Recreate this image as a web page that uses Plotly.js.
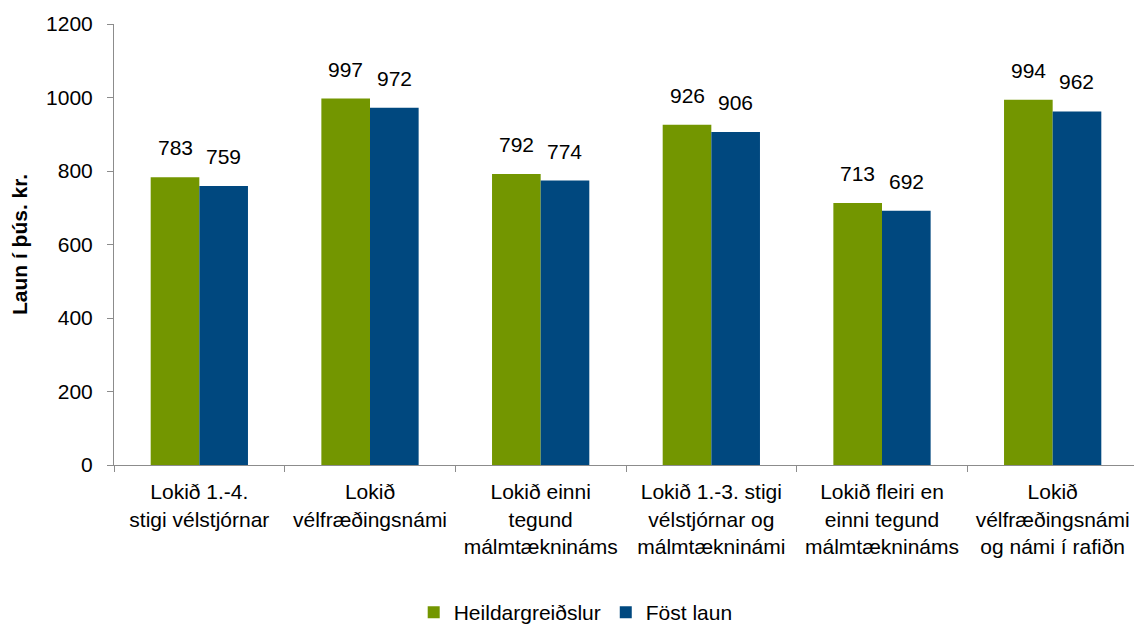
<!DOCTYPE html>
<html>
<head>
<meta charset="utf-8">
<script src="https://cdn.plot.ly/plotly-3.0.1.min.js"></script>
<style>
html,body{margin:0;padding:0;overflow:hidden;background:#fff;}
#chart{width:1140px;height:625px;}
</style>
</head>
<body>
<div id="chart"></div>
<script>
const categories = [
  "Lokið 1.-4.<br>stigi vélstjórnar",
  "Lokið<br>vélfræðingsnámi",
  "Lokið einni<br>tegund<br>málmtæknináms",
  "Lokið 1.-3. stigi<br>vélstjórnar og<br>málmtækninámi",
  "Lokið fleiri en<br>einni tegund<br>málmtæknináms",
  "Lokið<br>vélfræðingsnámi<br>og námi í rafiðn"
];
const seriesNames = ["Heildargreiðslur", "Föst laun"];
const heildar = [783, 997, 792, 926, 713, 994];
const fost = [759, 972, 774, 906, 692, 962];
const yTicks = [0, 200, 400, 600, 800, 1000, 1200];

const font = "Liberation Sans, Arial, sans-serif";
const colors = ["#739600", "#00487f"];

const traces = [heildar, fost].map((vals, i) => ({
  type: "bar",
  name: seriesNames[i],
  x: categories,
  y: vals,
  marker: {color: colors[i]},
  hoverinfo: "y"
}));

const annotations = [];
[heildar, fost].forEach((vals, i) => {
  vals.forEach((v, j) => {
    annotations.push({
      x: categories[j], y: v, xref: "x", yref: "y",
      text: String(v), showarrow: false,
      xshift: i === 0 ? -24.3 : 24.3,
      yanchor: "bottom", yshift: 16,
      font: {family: font, size: 21, color: "#000"}
    });
  });
});

const layout = {
  width: 1140, height: 625,
  margin: {l: 114, r: 2, t: 24, b: 160},
  paper_bgcolor: "#fff", plot_bgcolor: "#fff",
  font: {family: font, size: 21, color: "#000"},
  barmode: "group",
  bargap: 0.43,
  bargroupgap: 0,
  showlegend: true,
  legend: {
    orientation: "h", xref: "container", yref: "container",
    x: 0.505, xanchor: "center", y: 0.02, yanchor: "middle",
    font: {family: font, size: 21, color: "#000"},
    itemwidth: 30
  },
  xaxis: {
    type: "category",
    showline: true, linecolor: "#8c8c8c", linewidth: 1,
    ticks: "outside", tickson: "boundaries", ticklen: 6, tickcolor: "#8c8c8c",
    ticklabelstandoff: 8,
    tickfont: {family: font, size: 21, color: "#000"},
    tickangle: 0,
    showgrid: false, zeroline: false
  },
  yaxis: {
    range: [0, 1200],
    tickvals: yTicks,
    ticktext: yTicks.map(String),
    showline: true, linecolor: "#8c8c8c", linewidth: 1,
    ticks: "outside", ticklen: 6, tickcolor: "#8c8c8c",
    ticklabelstandoff: 10,
    tickfont: {family: font, size: 21, color: "#000"},
    showgrid: false, zeroline: false,
    title: {text: "Laun í þús. kr.", font: {family: font, size: 21, color: "#000", weight: "bold"}, standoff: 12}
  },
  annotations: annotations
};

Plotly.newPlot("chart", traces, layout, {displayModeBar: false, responsive: false});
</script>
</body>
</html>
